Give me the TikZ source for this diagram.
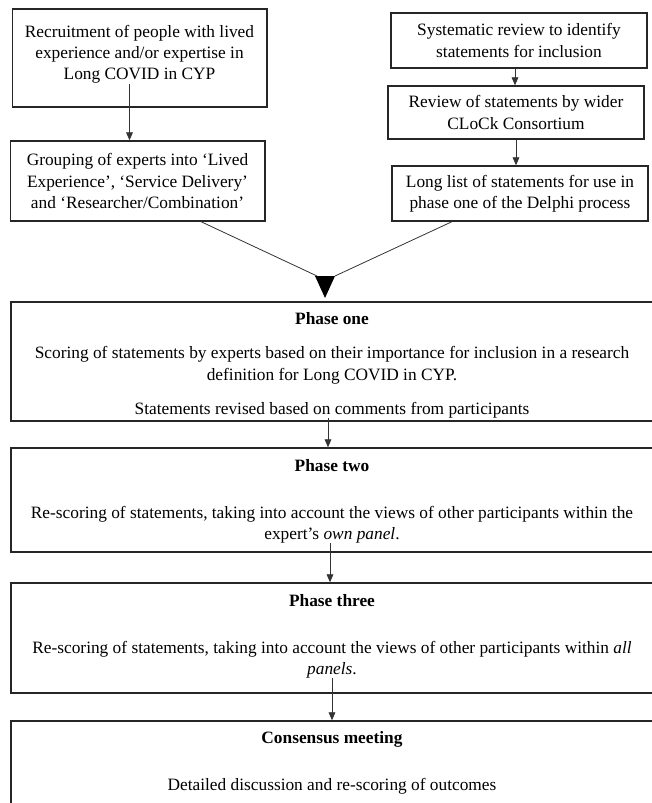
\documentclass[tikz,border=0pt]{standalone}
\usepackage{fontspec}
\setmainfont{Liberation Serif}
\usetikzlibrary{arrows.meta}

\tikzset{
    box/.style={draw=black!85, line width=1pt, inner sep=0pt, align=center, font=\fontsize{13}{16}\selectfont},
    boxtext/.style={inner sep=0pt, align=center, anchor=north, font=\fontsize{13}{16}\selectfont},
    link/.style={draw=black!80, line width=0.6pt}
}

\begin{document}
\begin{tikzpicture}[x=0.75pt, y=-0.75pt, >={Triangle[width=5pt,length=6pt]}]
            \useasboundingbox (0,0) rectangle (651,803);

            \node[box, minimum width=191pt, minimum height=73.5pt] (recruit) at (139.5,58) {};
            \node[boxtext] (recruittext) at (139.5,24.6) {Recruitment of people with lived\\experience and/or expertise in\\Long COVID in CYP};
            \node[box, minimum width=191pt, minimum height=60pt] (grouping) at (137.5,181) {Grouping of experts into ‘Lived\\Experience’, ‘Service Delivery’\\and ‘Researcher/Combination’};

            \node[box, minimum width=192pt, minimum height=41.25pt] (sysreview) at (519,40.5) {Systematic review to identify\\statements for inclusion};
            \node[box, minimum width=192pt, minimum height=39.75pt] (widerreview) at (516,112.5) {Review of statements by wider\\CLoCk Consortium};
            \node[box, minimum width=192pt, minimum height=41.25pt] (longlist) at (520,193.5) {Long list of statements for use in\\phase one of the Delphi process};

            \node[box, minimum width=483pt, minimum height=89.25pt] (phaseone) at (333,361.5) {};
            \node[boxtext] (phaseonetext) at (332,312.6) {\textbf{Phase one}\\[9.5pt]Scoring of statements by experts based on their importance for inclusion in a research\\definition for Long COVID in CYP.\\[9.5pt]Statements revised based on comments from participants};
            \node[box, minimum width=483pt, minimum height=78pt] (phasetwo) at (333,500) {};
            \node[boxtext] (phasetwotext) at (332,458.8) {\textbf{Phase two}\\[19.25pt]Re-scoring of statements, taking into account the views of other participants within the\\expert’s \textit{own panel}.};
            \node[box, minimum width=483pt, minimum height=82.5pt] (phasethree) at (333,638) {};
            \node[boxtext] (phasethreetext) at (332,593.8) {\textbf{Phase three}\\[19.25pt]Re-scoring of statements, taking into account the views of other participants within \textit{all}\\\textit{panels}.};
            \node[box, minimum width=483pt, minimum height=81.75pt] (consensus) at (333,775.5) {};
            \node[boxtext] (consensustext) at (332,730.8) {\textbf{Consensus meeting}\\[19.25pt]Detailed discussion and re-scoring of outcomes};

            \draw[link, ->] ([xshift=-7.5pt]recruittext.south) -- ([xshift=-7.5pt]recruittext.south |- grouping.north);
            \draw[link, ->] ([xshift=-3pt]sysreview.south) -- ([xshift=-3pt]sysreview.south |- widerreview.north);
            \draw[link, ->] (widerreview.south) -- (widerreview.south |- longlist.north);

            \coordinate (merge) at (325,276);
            \draw[link] ([xshift=47.6pt]grouping.south) -- ([xshift=-6pt]merge);
            \draw[link] ([xshift=-51pt]longlist.south) -- ([xshift=7.5pt]merge);
            \fill[black] ([xshift=-7.5pt]merge) -- ([xshift=7.5pt]merge) -- ([yshift=-16.5pt]merge) -- cycle;

            \draw[link, ->] ([xshift=-3pt]phaseonetext.south) -- ([xshift=-3pt]phaseonetext.south |- phasetwo.north);
            \draw[link, ->] ([xshift=-1.5pt]phasetwotext.south) -- ([xshift=-1.5pt]phasetwotext.south |- phasethree.north);
            \draw[link, ->] (phasethreetext.south) -- (phasethreetext.south |- consensus.north);
        \end{tikzpicture}
\end{document}
